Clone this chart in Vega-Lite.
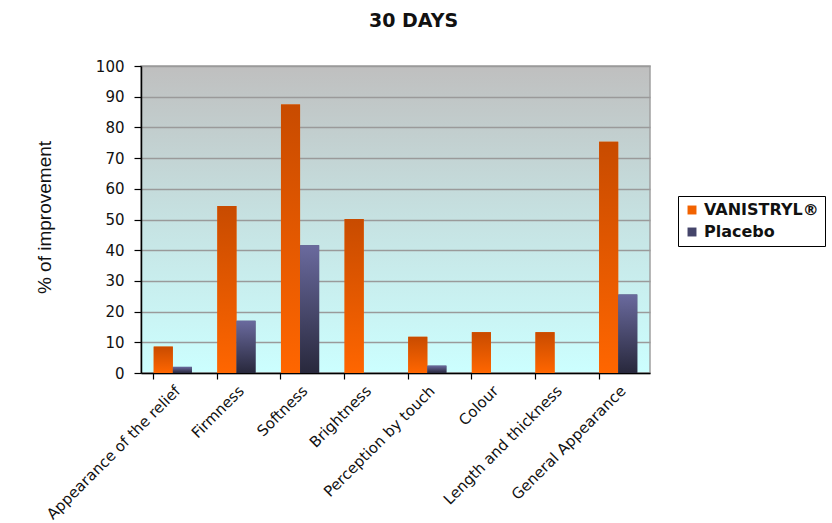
{
  "$schema": "https://vega.github.io/schema/vega-lite/v6.json",
  "width": 509,
  "height": 307,
  "autosize": {"type": "none"},
  "padding": {"left": 141, "top": 66, "right": 182, "bottom": 150},
  "background": "white",
  "title": {
    "text": "30 DAYS",
    "fontSize": 19,
    "fontWeight": "bold",
    "font": "DejaVu Sans",
    "color": "#111111",
    "anchor": "middle",
    "dx": 18,
    "offset": 28
  },
  "config": {
    "font": "DejaVu Sans",
    "view": {
      "stroke": "#a0a0a0",
      "strokeWidth": 1.5,
      "fill": {
        "gradient": "linear",
        "x1": 0, "y1": 0, "x2": 0, "y2": 1,
        "stops": [
          {"offset": 0, "color": "#bfbfbf"},
          {"offset": 0.5, "color": "#c6e2e2"},
          {"offset": 1, "color": "#ccffff"}
        ]
      }
    }
  },
  "data": {
    "values": [
      {"attribute": "Appearance of the relief", "series": "VANISTRYL®", "value": 8.6},
      {"attribute": "Appearance of the relief", "series": "Placebo", "value": 2.0},
      {"attribute": "Firmness", "series": "VANISTRYL®", "value": 54.4},
      {"attribute": "Firmness", "series": "Placebo", "value": 17.0},
      {"attribute": "Softness", "series": "VANISTRYL®", "value": 87.5},
      {"attribute": "Softness", "series": "Placebo", "value": 41.6},
      {"attribute": "Brightness", "series": "VANISTRYL®", "value": 50.2},
      {"attribute": "Brightness", "series": "Placebo", "value": 0},
      {"attribute": "Perception by touch", "series": "VANISTRYL®", "value": 11.8},
      {"attribute": "Perception by touch", "series": "Placebo", "value": 2.4},
      {"attribute": "Colour", "series": "VANISTRYL®", "value": 13.3},
      {"attribute": "Colour", "series": "Placebo", "value": 0},
      {"attribute": "Length and  thickness", "series": "VANISTRYL®", "value": 13.3},
      {"attribute": "Length and  thickness", "series": "Placebo", "value": 0},
      {"attribute": "General Appearance", "series": "VANISTRYL®", "value": 75.3},
      {"attribute": "General Appearance", "series": "Placebo", "value": 25.6}
    ]
  },
  "encoding": {
    "x": {
      "field": "attribute",
      "type": "nominal",
      "sort": null,
      "scale": {"paddingInner": 0.4, "paddingOuter": 0.2},
      "axis": {
        "title": null,
        "bandPosition": 0,
        "labelAngle": -45,
        "labelFont": "DejaVu Sans",
        "labelFontSize": 15,
        "labelColor": "#111111",
        "labelPadding": 4,
        "labelLimit": 400,
        "domainColor": "#000000",
        "domainWidth": 1.5,
        "tickColor": "#000000",
        "tickSize": 6,
        "tickWidth": 1.2
      }
    },
    "xOffset": {
      "field": "series",
      "type": "nominal",
      "sort": ["VANISTRYL®", "Placebo"],
      "scale": {"paddingInner": 0, "paddingOuter": 0}
    },
    "y": {
      "field": "value",
      "type": "quantitative",
      "scale": {"domain": [0, 100], "nice": false},
      "axis": {
        "title": "% of improvement",
        "titleFont": "Liberation Sans",
        "titleFontSize": 19,
        "titleFontWeight": "normal",
        "titleColor": "#111111",
        "titleX": -97,
        "titleY": 151,
        "titleAngle": -90,
        "titleAlign": "center",
        "titleBaseline": "middle",
        "values": [0, 10, 20, 30, 40, 50, 60, 70, 80, 90, 100],
        "labelFont": "DejaVu Sans",
        "labelFontSize": 15,
        "labelColor": "#111111",
        "labelPadding": 10,
        "domainColor": "#000000",
        "domainWidth": 1.5,
        "tickColor": "#000000",
        "tickSize": 7,
        "tickWidth": 1.2,
        "grid": true,
        "gridColor": "#9a9a9a",
        "gridWidth": 1.5
      }
    }
  },
  "layer": [
    {
      "mark": {"type": "bar"},
      "encoding": {
        "color": {
          "field": "series",
          "type": "nominal",
          "sort": ["VANISTRYL®", "Placebo"],
          "scale": {"domain": ["VANISTRYL®", "Placebo"], "range": ["#f26200", "#45456a"]},
          "legend": {
            "title": null,
            "orient": "none",
            "legendX": 537,
            "legendY": 130,
            "symbolType": "square",
            "symbolSize": 80,
            "symbolStrokeWidth": 0,
            "labelFont": "DejaVu Sans",
            "labelFontSize": 16,
            "labelFontWeight": "bold",
            "labelColor": "#111111",
            "labelLimit": 300,
            "rowPadding": 6,
            "padding": 6,
            "strokeColor": "#000000",
            "fillColor": "white"
          }
        }
      }
    },
    {
      "transform": [{"filter": "datum.series === 'VANISTRYL®'"}],
      "mark": {
        "type": "bar",
        "color": {
          "gradient": "linear",
          "x1": 0, "y1": 0, "x2": 0, "y2": 1,
          "stops": [
            {"offset": 0, "color": "#c84b00"},
            {"offset": 1, "color": "#ff6600"}
          ]
        }
      }
    },
    {
      "transform": [{"filter": "datum.series === 'Placebo'"}],
      "mark": {
        "type": "bar",
        "color": {
          "gradient": "linear",
          "x1": 0, "y1": 0, "x2": 0, "y2": 1,
          "stops": [
            {"offset": 0, "color": "#6a6a9e"},
            {"offset": 1, "color": "#28283c"}
          ]
        }
      }
    }
  ]
}
